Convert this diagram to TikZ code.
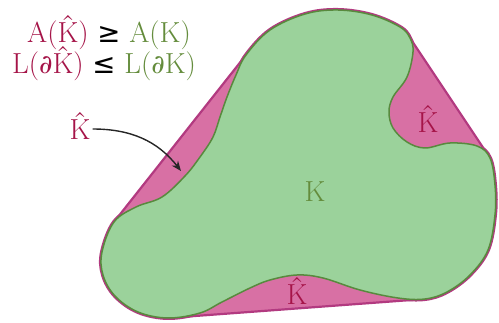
\documentclass[tikz,border=0pt]{standalone}
\usepackage{fontspec}
\newfontfamily\symf{DejaVu Sans}[Scale=0.95]
\newfontfamily\dvf{DejaVu Serif}[Scale=0.9]
\usetikzlibrary{arrows.meta}
\definecolor{pinkfill}{RGB}{216,112,164}
\definecolor{hullcol}{RGB}{178,58,128}
\definecolor{greenfill}{RGB}{155,210,155}
\definecolor{greenline}{RGB}{88,138,62}
\definecolor{crim}{RGB}{165,20,72}
\definecolor{kgreen}{RGB}{100,140,60}
\newcommand\Khat{\setbox0\hbox{K}\rlap{\hbox to \wd0{\hss\raisebox{0.25em}{\char"02C6}\hss}}K}
\newcommand\Kshape[1]{\path[#1] plot[smooth cycle, tension=0.6] coordinates {
(246,55) (270,30) (305,14) (338,10) (372,15) (400,27) (410,38)
(413,52) (407,77) (393,97) (389,112) (393,128) (407,142) (425,148)
(450,143) (477,146) (490,158) (495,185) (495,215) (488,250) (470,275)
(447,292) (425,299) (398,298) (360,290) (323,278) (297,275) (270,280)
(250,288) (222,302) (200,313) (168,318) (138,312) (115,296) (103,275)
(102,252) (114,222) (136,207) (162,197) (185,176) (200,157) (213,137)
(220,117) (227,97) (236,75)};}
\tikzset{
  lbl/.style={font=\fontsize{29}{32}\selectfont, inner sep=0pt},
  hulledge/.style={draw=hullcol, line width=2.2pt, line cap=round},
}
\begin{document}
\begin{tikzpicture}[x=1pt,y=-1pt]
\useasboundingbox (0,0) rectangle (499,323);
\coordinate (T1) at (246,55);
\coordinate (T2) at (410,38);
\coordinate (T3) at (490,158);
\coordinate (T4) at (425,299);
\coordinate (T5) at (168,318);
\coordinate (T6) at (114,222);
% hull
\Kshape{draw=hullcol, line width=4pt}
\fill[pinkfill] (T1) -- (T2) -- (T3) -- (T4) -- (T5) -- (T6) -- cycle;
\draw[hulledge] (T1) -- (T6);
\draw[hulledge] (T2) -- (T3);
\draw[hulledge] (T4) -- (T5);
% K
\Kshape{fill=greenfill, draw=greenline, line width=1.5pt}
% labels
\node[lbl, anchor=base] (eq1) at (109,43) {{\color{crim}A(\Khat)} {\symf ≥} {\color{kgreen}A(K)}};
\node[lbl, anchor=base] (eq2) at (104,74) {{\color{crim}L({\dvf ∂}\Khat)} {\symf ≤} {\color{kgreen}L({\dvf ∂}K)}};
\node[lbl, text=crim] (kh1) at (80,126) {\Khat};
\node[lbl, text=crim] (kh2) at (428,119) {\Khat};
\node[lbl, text=crim] (kh3) at (297,291) {\Khat};
\node[lbl, text=kgreen] (k) at (315,192) {K};
\coordinate (tip) at (181,171);
\draw[-{Stealth[length=10pt,width=8pt]}, line width=1.4pt, black!85] (kh1.east) ++(2,3) to[out=0,in=128] (tip);
\end{tikzpicture}
\end{document}
